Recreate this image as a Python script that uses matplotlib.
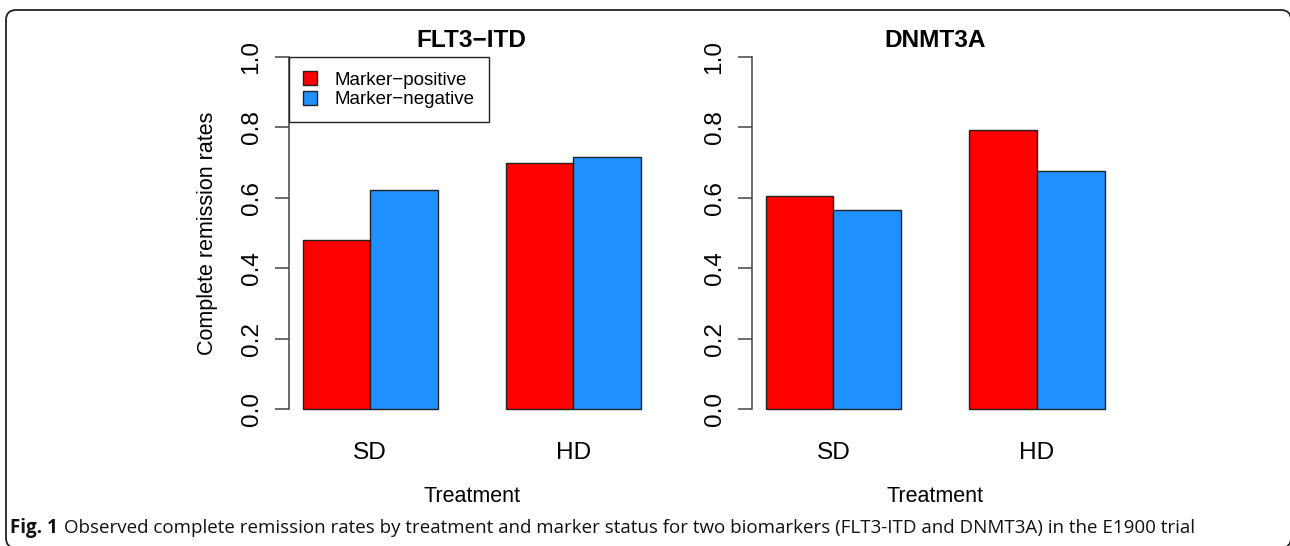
import matplotlib
matplotlib.use("Agg")
import matplotlib.pyplot as plt
import numpy as np
from matplotlib.patches import Patch, FancyBboxPatch

plt.rcParams["font.family"] = ["Liberation Sans", "DejaVu Sans"]

# data
treatments = ["SD", "HD"]
marker_labels = ["Marker\u2212positive", "Marker\u2212negative"]
flt3_pos = [0.481, 0.700]
flt3_neg = [0.621, 0.716]
dnmt3a_pos = [0.606, 0.794]
dnmt3a_neg = [0.566, 0.677]
panel_titles = ["FLT3\u2212ITD", "DNMT3A"]
y_ticks = [0.0, 0.2, 0.4, 0.6, 0.8, 1.0]

RED = "#FF0000"
BLUE = "#1E90FF"
EDGE = "#222222"
W, H = 1290, 546


def px_box(x0, y0, x1, y1):
    # pixel box (top-left origin) -> figure fraction rect
    return [x0 / W, 1 - y1 / H, (x1 - x0) / W, (y1 - y0) / H]


def fx(x):
    return x / W


def fy(y):
    return 1 - y / H


fig = plt.figure(figsize=(W / 100, H / 100), dpi=100)

# rounded frame in display pixels; right and bottom edges sit on the canvas border
frame = FancyBboxPatch((6, -2), 1291 - 6, (H - 10) + 2,
                       boxstyle="round,pad=0,rounding_size=10",
                       transform=None, fill=False,
                       edgecolor=EDGE, linewidth=1.3, clip_on=False)
fig.patches.append(frame)

panels = [
    (px_box(289, 43, 654.5, 423), flt3_pos, flt3_neg, panel_titles[0]),
    (px_box(752, 43, 1118.5, 423), dnmt3a_pos, dnmt3a_neg, panel_titles[1]),
]

axes = []
for rect, pos, neg, title in panels:
    ax = fig.add_axes(rect)
    # R barplot(beside=TRUE) layout: bars at 1-2, 2-3, 4-5, 5-6
    starts = np.arange(len(treatments)) * 3 + 1
    ax.bar(starts, pos, width=1, align="edge", color=RED,
           edgecolor=EDGE, linewidth=1.0)
    ax.bar(starts + 1, neg, width=1, align="edge", color=BLUE,
           edgecolor=EDGE, linewidth=1.0)
    ax.set_xlim(0.8, 6.2)
    ax.set_ylim(-0.04, 1.04)
    for side in ["top", "right", "bottom"]:
        ax.spines[side].set_visible(False)
    ax.spines["left"].set_bounds(0, 1)
    ax.spines["left"].set_color("#444444")
    ax.spines["left"].set_linewidth(1.1)
    ax.set_yticks(y_ticks)
    ax.set_yticklabels([f"{t:.1f}" for t in y_ticks], rotation=90,
                       va="center", fontsize=17.6)
    ax.tick_params(axis="y", length=10, width=1.1, color="#444444", pad=9)
    ax.set_xticks(starts + 1)
    ax.set_xticklabels(treatments, fontsize=17.6)
    ax.tick_params(axis="x", length=0, pad=13.5)
    ax.set_title(title, fontsize=17.6, fontweight="bold", y=0.9895, pad=0)
    axes.append(ax)

    # axis title "Treatment" under each panel
    cx = (rect[0] + rect[0] + rect[2]) / 2
    fig.text(cx, fy(502), "Treatment", fontsize=15.5, ha="center", va="baseline")

fig.text(fx(207), fy(233), "Complete remission rates", fontsize=15.5,
         rotation=90, ha="center", va="center")

handles = [Patch(facecolor=RED, edgecolor=EDGE),
           Patch(facecolor=BLUE, edgecolor=EDGE)]
leg = axes[0].legend(handles, marker_labels, loc="upper left",
                     bbox_to_anchor=(0.8, 1.0), bbox_transform=axes[0].transData,
                     fontsize=13.5, fancybox=False, framealpha=1,
                     edgecolor=EDGE, handlelength=0.75, handleheight=0.75,
                     handletextpad=0.95, borderpad=0.75, labelspacing=0.12,
                     borderaxespad=0)
leg.get_frame().set_linewidth(1.0)

cap_font = ["Open Sans", "DejaVu Sans"]
fig.text(fx(10), fy(533), "Fig. 1", fontsize=13.5, fontweight="bold",
         family=cap_font, va="baseline", color="#111111")
fig.text(fx(64), fy(533),
         "Observed complete remission rates by treatment and marker status for two "
         "biomarkers (FLT3-ITD and DNMT3A) in the E1900 trial",
         fontsize=13.5, family=cap_font, va="baseline", color="#111111")

fig.savefig("out.png", dpi=100)
